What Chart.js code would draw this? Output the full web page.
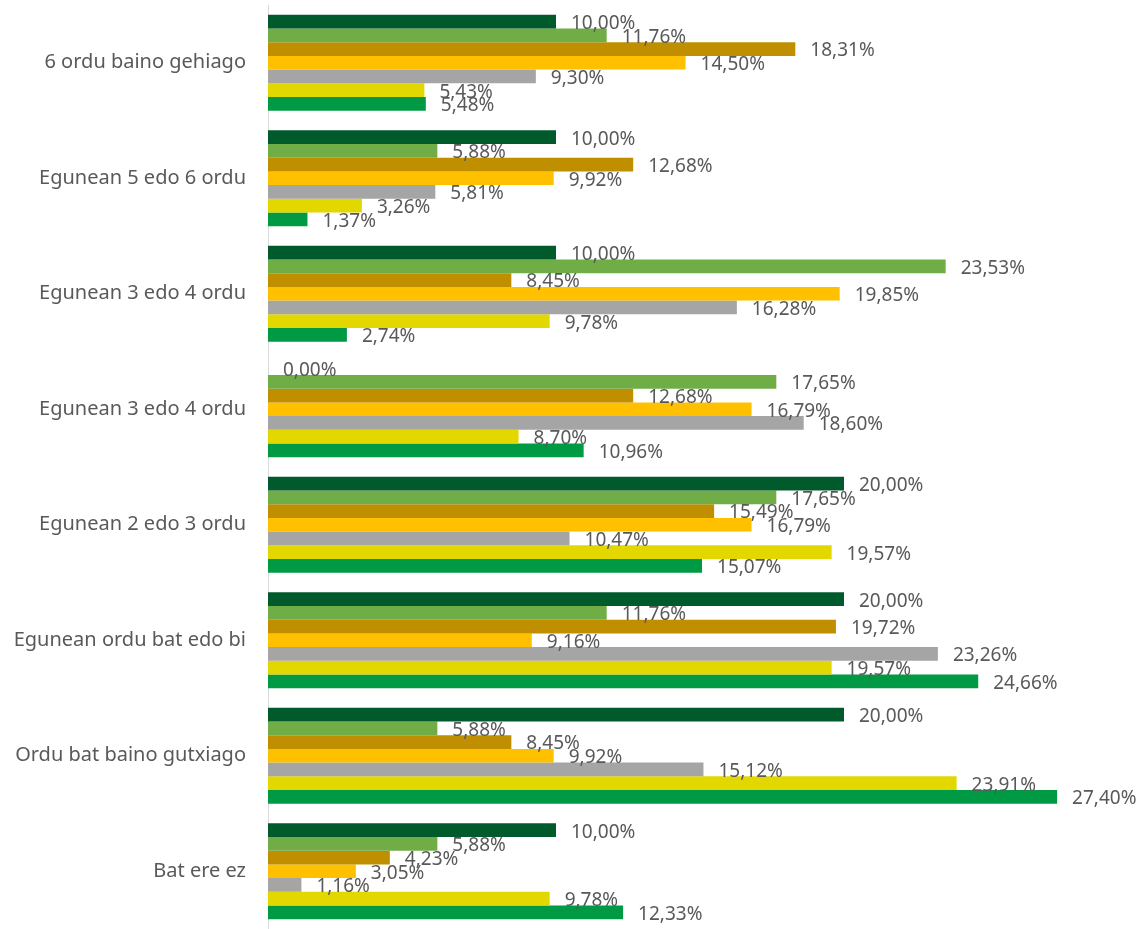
<!DOCTYPE html>
<html>
<head>
<meta charset="utf-8">
<script src="https://cdn.jsdelivr.net/npm/chart.js@4.4.1/dist/chart.umd.min.js"></script>
<style>
  body { margin: 0; background: #fff; }
  #wrap { width: 1145px; height: 929px; position: relative; }
</style>
</head>
<body>
<div id="wrap"><canvas id="myChart"></canvas></div>
<script>
const categories = [
    '6 ordu baino gehiago',
    'Egunean 5 edo 6 ordu',
    'Egunean 3 edo 4 ordu',
    'Egunean 3 edo 4 ordu',
    'Egunean 2 edo 3 ordu',
    'Egunean ordu bat edo bi',
    'Ordu bat baino gutxiago',
    'Bat ere ez'
];

// one array per series, top bar to bottom bar inside each group
const series1 = [10.00, 10.00, 10.00, 0.00, 20.00, 20.00, 20.00, 10.00];
const series2 = [11.76, 5.88, 23.53, 17.65, 17.65, 11.76, 5.88, 5.88];
const series3 = [18.31, 12.68, 8.45, 12.68, 15.49, 19.72, 8.45, 4.23];
const series4 = [14.50, 9.92, 19.85, 16.79, 16.79, 9.16, 9.92, 3.05];
const series5 = [9.30, 5.81, 16.28, 18.60, 10.47, 23.26, 15.12, 1.16];
const series6 = [5.43, 3.26, 9.78, 8.70, 19.57, 19.57, 23.91, 9.78];
const series7 = [5.48, 1.37, 2.74, 10.96, 15.07, 24.66, 27.40, 12.33];

const colors = ['#005a2b', '#70ad47', '#bf8f00', '#ffc000', '#a5a5a5', '#e3d700', '#009a44'];
const allSeries = [series1, series2, series3, series4, series5, series6, series7];

const textColor = '#595959';
const fontFamily = '"Noto Sans", "Open Sans", sans-serif';

// draws the value next to the end of every bar
const valueLabels = {
    id: 'valueLabels',
    afterDatasetsDraw(chart) {
        const ctx = chart.ctx;
        ctx.save();
        ctx.font = '19px ' + fontFamily;
        ctx.fillStyle = textColor;
        ctx.textAlign = 'left';
        ctx.textBaseline = 'middle';
        chart.data.datasets.forEach((ds, i) => {
            const meta = chart.getDatasetMeta(i);
            meta.data.forEach((bar, j) => {
                const txt = ds.data[j].toFixed(2).replace('.', ',') + '%';
                ctx.fillText(txt, bar.x + 15, bar.y + 2);
            });
        });
        ctx.restore();
    }
};

const ctx = document.getElementById('myChart').getContext('2d');
const myChart = new Chart(ctx, {
    type: 'bar',
    data: {
        labels: categories,
        datasets: allSeries.map((s, i) => ({
            label: 'S' + (i + 1),
            data: s,
            backgroundColor: colors[i],
            borderWidth: 0,
            barPercentage: 1,
            categoryPercentage: 0.83
        }))
    },
    plugins: [valueLabels],
    options: {
        indexAxis: 'y',
        responsive: true,
        maintainAspectRatio: false,
        animation: false,
        layout: {
            padding: { top: 5, bottom: 0, left: 0, right: 13 }
        },
        plugins: {
            legend: { display: false },
            tooltip: { enabled: false }
        },
        scales: {
            x: {
                display: false,
                min: 0,
                max: 30
            },
            y: {
                grid: { display: false, drawTicks: false },
                border: { display: true, color: '#d9d9d9', width: 1 },
                ticks: {
                    color: textColor,
                    padding: 22,
                    font: { family: fontFamily, size: 20 }
                },
                afterFit(scale) {
                    scale.width = 268;
                    scale.paddingTop = 0;
                    scale.paddingBottom = 0;
                }
            }
        }
    }
});
</script>
</body>
</html>
